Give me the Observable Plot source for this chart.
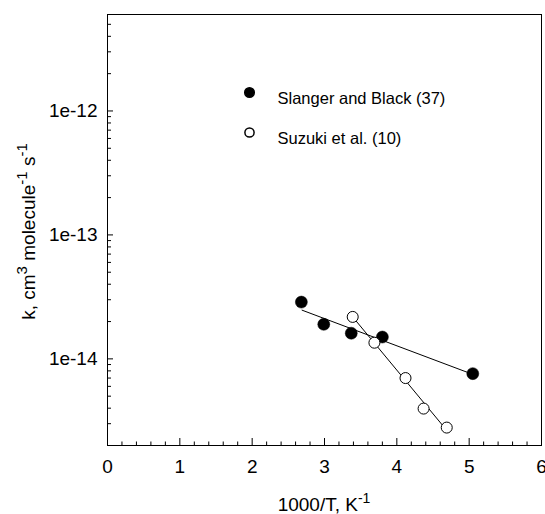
<!DOCTYPE html>
<html><head><meta charset="utf-8">
<script src="https://cdn.jsdelivr.net/npm/d3@7"></script>
<script src="https://cdn.jsdelivr.net/npm/@observablehq/plot@0.6"></script>
<style>
html,body{margin:0;padding:0;background:#fff;}
#chart{width:545px;height:514px;}
</style></head><body><div id="chart"></div>
<script>
// Data
const slangerX = [2.68, 2.99, 3.37, 3.80, 5.05];
const slangerK = [2.87e-14, 1.90e-14, 1.61e-14, 1.50e-14, 7.6e-15];
const suzukiX = [3.39, 3.69, 4.12, 4.37, 4.69];
const suzukiK = [2.18e-14, 1.35e-14, 7.0e-15, 3.97e-15, 2.79e-15];
// Fitted lines (end points)
const slangerFitX = [2.69, 5.05];
const slangerFitK = [2.47e-14, 7.5e-15];
const suzukiFitX = [3.39, 4.69];
const suzukiFitK = [2.18e-14, 2.65e-15];
const seriesLabels = ["Slanger and Black (37)", "Suzuki et al. (10)"];
// Ticks
const xTicks = [0, 1, 2, 3, 4, 5, 6];
const xTickLabels = ["0", "1", "2", "3", "4", "5", "6"];
const xMinorTicks = [0.2,0.4,0.6,0.8, 1.2,1.4,1.6,1.8, 2.2,2.4,2.6,2.8, 3.2,3.4,3.6,3.8, 4.2,4.4,4.6,4.8, 5.2,5.4,5.6,5.8];
const yTicks = [1e-14, 1e-13, 1e-12];
const yTickLabels = ["1e-14", "1e-13", "1e-12"];
const yMinorTicks = [2e-15,3e-15,4e-15,5e-15,6e-15,7e-15,8e-15,9e-15,
  2e-14,3e-14,4e-14,5e-14,6e-14,7e-14,8e-14,9e-14,
  2e-13,3e-13,4e-13,5e-13,6e-13,7e-13,8e-13,9e-13,
  2e-12,3e-12,4e-12,5e-12,6e-12];
const xTitle = "1000/T, K";
const xTitleSup = "-1";

const W = 545, H = 514, mL = 107, mR = 4, mT = 14, mB = 69;
const plotW = W - mL - mR, plotH = H - mT - mB;

const slanger = slangerX.map((x, i) => ({x, k: slangerK[i]}));
const suzuki = suzukiX.map((x, i) => ({x, k: suzukiK[i]}));
const slangerFit = slangerFitX.map((x, i) => ({x, k: slangerFitK[i]}));
const suzukiFit = suzukiFitX.map((x, i) => ({x, k: suzukiFitK[i]}));

const font = "'Liberation Sans', Arial, Helvetica, sans-serif";

const svg = Plot.plot({
  width: W, height: H,
  marginLeft: mL, marginRight: mR, marginTop: mT, marginBottom: mB,
  style: {fontFamily: font, fontSize: "19px", color: "#000", background: "#fff"},
  x: {domain: [0, 6], axis: null},
  y: {type: "log", domain: [2e-15, 6e-12], axis: null},
  marks: [
    Plot.tickX(xMinorTicks, {x: d => d, insetTop: plotH - 3.5, stroke: "#000"}),
    Plot.tickX(xTicks, {x: d => d, insetTop: plotH - 7, stroke: "#000"}),
    Plot.tickY(yMinorTicks, {y: d => d, insetRight: plotW - 4, stroke: "#000"}),
    Plot.tickY(yTicks, {y: d => d, insetRight: plotW - 6, stroke: "#000"}),
    Plot.axisX({ticks: xTicks, tickSize: 0, tickPadding: 14, fontSize: 19,
      tickFormat: d => xTickLabels[xTicks.indexOf(d)], label: null}),
    Plot.axisY({ticks: yTicks, tickSize: 0, tickPadding: 10, fontSize: 19,
      tickFormat: d => yTickLabels[yTicks.indexOf(d)], label: null}),
    Plot.frame({stroke: "#000", strokeWidth: 1}),
    Plot.line(slangerFit, {x: "x", y: "k", stroke: "#000", strokeWidth: 1}),
    Plot.line(suzukiFit, {x: "x", y: "k", stroke: "#000", strokeWidth: 1}),
    Plot.dot(slanger, {x: "x", y: "k", r: 6, fill: "#000", stroke: "#000", strokeWidth: 0.5}),
    Plot.dot(suzuki, {x: "x", y: "k", r: 5.5, fill: "#fff", stroke: "#000", strokeWidth: 1}),
    // legend
    Plot.dot([seriesLabels[0]], {frameAnchor: "top-left", dx: 142, dy: 78, r: 4.8, fill: "#000", stroke: "#000"}),
    Plot.dot([seriesLabels[1]], {frameAnchor: "top-left", dx: 142, dy: 118, r: 4.6, fill: "#fff", stroke: "#000"}),
    Plot.text([seriesLabels[0]], {text: d => d, frameAnchor: "top-left", dx: 170, dy: 78, textAnchor: "start", fontSize: 16.5, fill: "#000"}),
    Plot.text([seriesLabels[1]], {text: d => d, frameAnchor: "top-left", dx: 170, dy: 118, textAnchor: "start", fontSize: 16.5, fill: "#000"})
  ]
});

const s = d3.select(svg);
// x-axis title with superscript
const xt = s.append("text")
  .attr("x", mL + plotW / 2).attr("y", 511)
  .attr("text-anchor", "middle")
  .attr("font-family", font).attr("font-size", 19).attr("fill", "#000");
xt.append("tspan").text(xTitle);
xt.append("tspan").attr("dy", -8).attr("font-size", 14).text(xTitleSup);

// y-axis title with superscripts
const yt = s.append("text")
  .attr("transform", `translate(35,${mT + plotH / 2 + 2}) rotate(-90)`)
  .attr("text-anchor", "middle")
  .attr("font-family", font).attr("font-size", 19).attr("fill", "#000");
const parts = [["k, cm", false], ["3", true], [" molecule", false], ["-1", true], [" s", false], ["-1", true]];
let raised = false;
for (const [t, sup] of parts) {
  const ts = yt.append("tspan").text(t);
  if (sup && !raised) { ts.attr("dy", -8).attr("font-size", 15); raised = true; }
  else if (sup) { ts.attr("font-size", 15); }
  else if (!sup && raised) { ts.attr("dy", 8); raised = false; }
}

document.getElementById("chart").appendChild(svg);
</script>
</body></html>
